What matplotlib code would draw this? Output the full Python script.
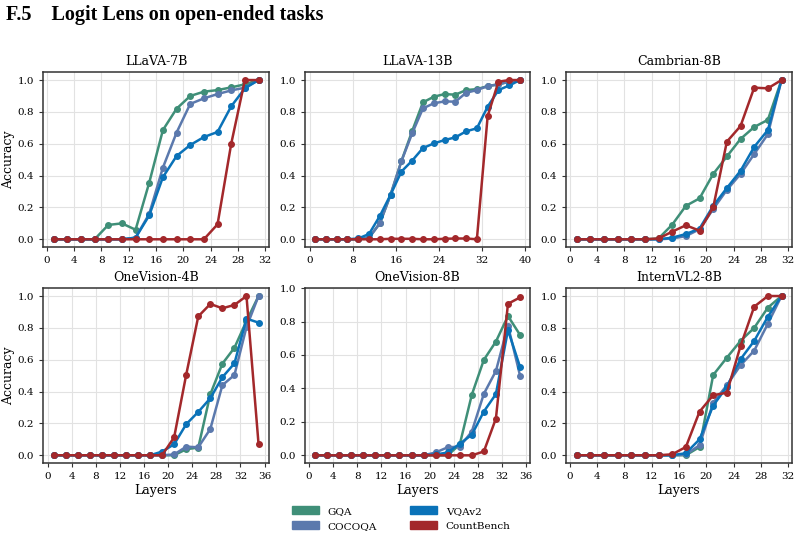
import matplotlib
matplotlib.use('Agg')
import matplotlib.pyplot as plt
from matplotlib.patches import Patch

# layers (odd layers sampled)
layers_32 = list(range(1, 32, 2))
layers_40 = list(range(1, 40, 2))
layers_36 = list(range(1, 36, 2))

# LLaVA-7B
llava7_gqa = [0, 0, 0, 0, 0.09, 0.10, 0.06, 0.356, 0.686, 0.82, 0.90, 0.927, 0.937, 0.954, 0.973, 1.0]
llava7_coco = [0, 0, 0, 0, 0, 0, 0.01, 0.16, 0.45, 0.67, 0.85, 0.885, 0.912, 0.935, 0.952, 1.0]
llava7_vqa = [0, 0, 0, 0, 0, 0, 0.01, 0.15, 0.39, 0.523, 0.592, 0.642, 0.674, 0.835, 0.948, 1.0]
llava7_count = [0, 0, 0, 0, 0, 0, 0, 0, 0, 0, 0, 0, 0.094, 0.60, 1.0, 1.0]

# LLaVA-13B
llava13_gqa = [0, 0, 0, 0, 0, 0.01, 0.10, 0.28, 0.49, 0.68, 0.86, 0.895, 0.912, 0.908, 0.937, 0.943, 0.962, 0.973, 0.99, 1.0]
llava13_coco = [0, 0, 0, 0, 0, 0.01, 0.10, 0.28, 0.49, 0.665, 0.822, 0.854, 0.866, 0.864, 0.92, 0.937, 0.962, 0.973, 0.99, 1.0]
llava13_vqa = [0, 0, 0, 0, 0.005, 0.033, 0.146, 0.28, 0.425, 0.494, 0.573, 0.602, 0.623, 0.64, 0.678, 0.697, 0.833, 0.937, 0.966, 1.0]
llava13_count = [0, 0, 0, 0, 0, 0, 0, 0.003, 0.003, 0.003, 0, 0, 0.003, 0.005, 0.005, 0, 0.774, 0.99, 1.0, 1.0]

# Cambrian-8B
camb_gqa = [0, 0, 0, 0, 0, 0, 0.005, 0.092, 0.21, 0.257, 0.41, 0.52, 0.63, 0.705, 0.75, 1.0]
camb_coco = [0, 0, 0, 0, 0, 0, 0, 0.005, 0.02, 0.063, 0.19, 0.31, 0.41, 0.535, 0.66, 1.0]
camb_vqa = [0, 0, 0, 0, 0, 0, 0, 0.01, 0.033, 0.067, 0.21, 0.322, 0.43, 0.58, 0.686, 1.0]
camb_count = [0, 0, 0, 0, 0, 0, 0.005, 0.048, 0.088, 0.054, 0.20, 0.613, 0.711, 0.952, 0.948, 1.0]

# OneVision-4B
ov4_gqa = [0, 0, 0, 0, 0, 0, 0, 0, 0, 0, 0, 0.038, 0.048, 0.383, 0.575, 0.675, 0.843, 1.0]
ov4_coco = [0, 0, 0, 0, 0, 0, 0, 0, 0, 0, 0.005, 0.054, 0.05, 0.165, 0.44, 0.504, 0.805, 1.0]
ov4_vqa = [0, 0, 0, 0, 0, 0, 0, 0, 0, 0.023, 0.069, 0.195, 0.272, 0.358, 0.49, 0.577, 0.858, 0.833]
ov4_count = [0, 0, 0, 0, 0, 0, 0, 0, 0, 0, 0.113, 0.506, 0.872, 0.95, 0.923, 0.944, 1.0, 0.071]

# OneVision-8B
ov8_gqa = [0, 0, 0, 0, 0, 0, 0, 0, 0, 0, 0, 0, 0.065, 0.362, 0.571, 0.68, 0.833, 0.72]
ov8_coco = [0, 0, 0, 0, 0, 0, 0, 0, 0, 0, 0.017, 0.048, 0.052, 0.142, 0.368, 0.504, 0.776, 0.477]
ov8_vqa = [0, 0, 0, 0, 0, 0, 0, 0, 0, 0, 0.005, 0.017, 0.069, 0.123, 0.262, 0.366, 0.749, 0.529]
ov8_count = [0, 0, 0, 0, 0, 0, 0, 0, 0, 0, 0, 0, 0, 0, 0.023, 0.22, 0.906, 0.944]

# InternVL2-8B
ivl_gqa = [0, 0, 0, 0, 0, 0, 0, 0, 0, 0.052, 0.504, 0.613, 0.718, 0.80, 0.927, 1.0]
ivl_coco = [0, 0, 0, 0, 0, 0, 0, 0, 0.005, 0.063, 0.33, 0.44, 0.565, 0.657, 0.826, 1.0]
ivl_vqa = [0, 0, 0, 0, 0, 0, 0, 0, 0.013, 0.10, 0.312, 0.43, 0.603, 0.718, 0.87, 1.0]
ivl_count = [0, 0, 0, 0, 0, 0, 0, 0.006, 0.052, 0.274, 0.377, 0.393, 0.686, 0.933, 1.0, 1.0]

series_names = ['GQA', 'COCOQA', 'VQAv2', 'CountBench']
colors = ['#3f8f78', '#5b79ad', '#0a72b8', '#a3282b']

panels = [
    ('LLaVA-7B', layers_32, [llava7_gqa, llava7_coco, llava7_vqa, llava7_count], range(0, 33, 4)),
    ('LLaVA-13B', layers_40, [llava13_gqa, llava13_coco, llava13_vqa, llava13_count], range(0, 41, 8)),
    ('Cambrian-8B', layers_32, [camb_gqa, camb_coco, camb_vqa, camb_count], range(0, 33, 4)),
    ('OneVision-4B', layers_36, [ov4_gqa, ov4_coco, ov4_vqa, ov4_count], range(0, 37, 4)),
    ('OneVision-8B', layers_36, [ov8_gqa, ov8_coco, ov8_vqa, ov8_count], range(0, 37, 4)),
    ('InternVL2-8B', layers_32, [ivl_gqa, ivl_coco, ivl_vqa, ivl_count], range(0, 33, 4)),
]

plt.rcParams['font.family'] = ['DejaVu Serif']

fig, axes = plt.subplots(2, 3, figsize=(8.03, 5.38), dpi=100)
fig.subplots_adjust(left=0.054, right=0.986, top=0.866, bottom=0.139, wspace=0.16, hspace=0.233)

for i, (title, xs, ys, xt) in enumerate(panels):
    ax = axes.flat[i]
    for y, c, name in zip(ys, colors, series_names):
        ax.plot(xs, y, color=c, marker='o', markersize=4.0, linewidth=1.8, label=name)
    ax.set_title(title, fontsize=9, pad=5)
    ax.set_xticks(list(xt))
    ax.set_yticks([0, 0.2, 0.4, 0.6, 0.8, 1.0])
    ax.tick_params(labelsize=7.5, length=3, width=0.8, color='#333333')
    ax.grid(True, color='#e2e2e2', linewidth=0.8)
    ax.set_axisbelow(True)
    for s in ax.spines.values():
        s.set_color('#333333')
        s.set_linewidth(1.1)
    if i % 3 == 0:
        ax.set_ylabel('Accuracy', fontsize=9, labelpad=2)
    if i >= 3:
        ax.set_xlabel('Layers', fontsize=9, labelpad=2)

fig.text(0.008, 0.972, 'F.5    Logit Lens on open-ended tasks', fontsize=14.5, fontweight='bold',
         family='Liberation Serif', va='center', ha='left')

handles = [Patch(color=c, label=n) for c, n in zip(colors, series_names)]
fig.legend(handles=handles, loc='center', bbox_to_anchor=(0.5, 0.036), ncol=2, frameon=False,
           fontsize=7.5, handlelength=2.6, handleheight=0.8, columnspacing=3.2, labelspacing=0.5)

plt.savefig('out.png', dpi=100)
